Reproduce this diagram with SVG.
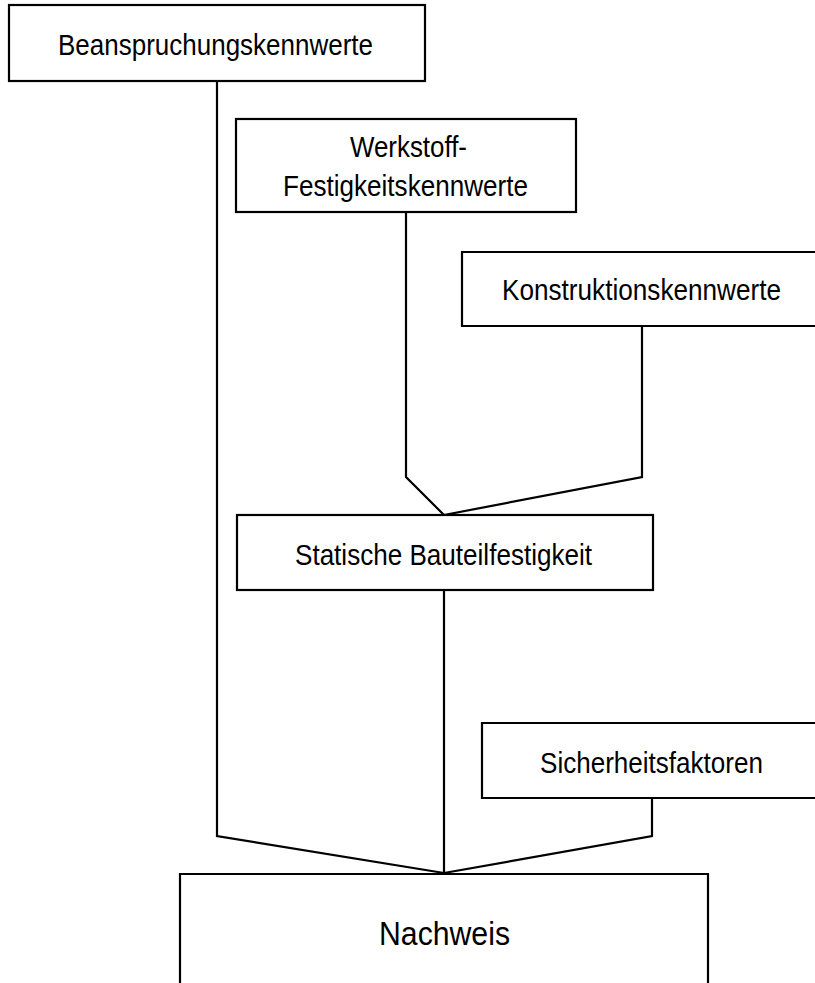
<svg xmlns="http://www.w3.org/2000/svg" width="815" height="983" viewBox="0 0 815 983">
<style>
.box{fill:#fff;stroke:#000;stroke-width:2.2}
.lbl{font-family:"Liberation Sans",Arial,sans-serif;font-size:30px;fill:#000}
.big{font-size:34px}
.con{fill:none;stroke:#000;stroke-width:2.2;stroke-linejoin:miter}
</style>
<rect width="815" height="983" fill="#fff"/>
<g id="connectors">
<polyline class="con" points="217,81 217,836 444,873"/>
<polyline class="con" points="406,212 406,477 444,515"/>
<polyline class="con" points="642,326 642,477 444,515"/>
<polyline class="con" points="444,590 444,874"/>
<polyline class="con" points="652,798 652,836 444,873"/>
</g>
<g id="beanspruchung">
<rect class="box" x="9" y="5" width="416" height="76"/>
<text class="lbl" x="58" y="55" textLength="315" lengthAdjust="spacingAndGlyphs">Beanspruchungskennwerte</text>
</g>
<g id="werkstoff">
<rect class="box" x="236" y="119" width="340" height="93"/>
<text class="lbl" x="350" y="157" textLength="117" lengthAdjust="spacingAndGlyphs">Werkstoff-</text>
<text class="lbl" x="283" y="196" textLength="245" lengthAdjust="spacingAndGlyphs">Festigkeitskennwerte</text>
</g>
<g id="konstruktion">
<path class="box" d="M815,252 H462 V326 H815"/>
<text class="lbl" x="502" y="300" textLength="279" lengthAdjust="spacingAndGlyphs">Konstruktionskennwerte</text>
</g>
<g id="statische">
<rect class="box" x="237" y="515" width="416" height="75"/>
<text class="lbl" x="295" y="565" textLength="297" lengthAdjust="spacingAndGlyphs">Statische Bauteilfestigkeit</text>
</g>
<g id="sicherheit">
<path class="box" d="M815,723 H482 V798 H815"/>
<text class="lbl" x="540" y="773" textLength="223" lengthAdjust="spacingAndGlyphs">Sicherheitsfaktoren</text>
</g>
<g id="nachweis">
<path class="box" d="M180,983 V874 H708 V983"/>
<text class="lbl big" x="379" y="945" textLength="131" lengthAdjust="spacingAndGlyphs">Nachweis</text>
</g>
</svg>
